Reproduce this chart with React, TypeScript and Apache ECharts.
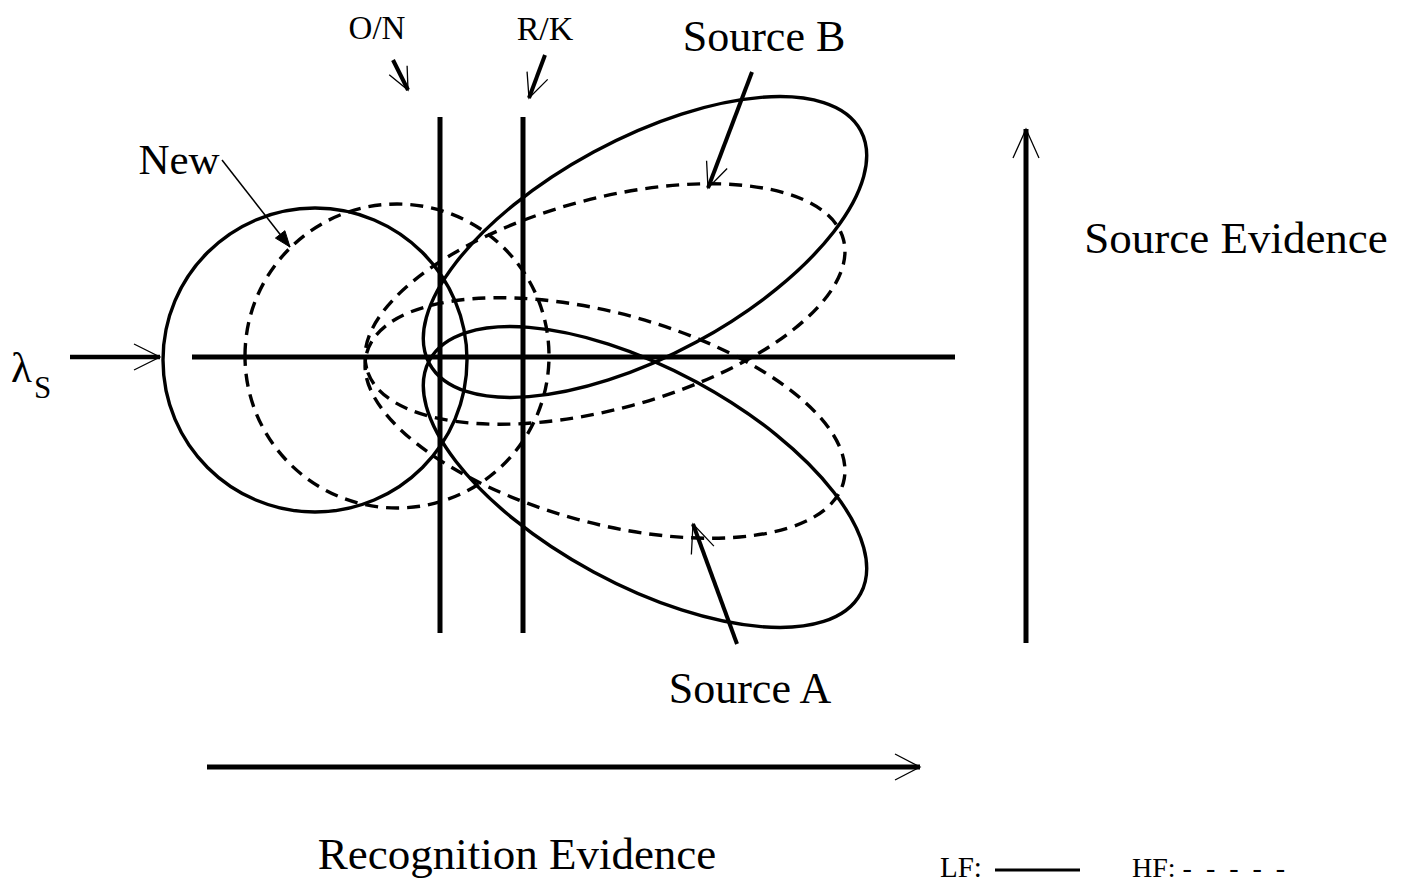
import React, { useEffect, useRef } from 'react';
import * as echarts from 'echarts';

// Distributions (ellipses) in diagram units (1 unit = 1 px of the figure)
const ellipseNames = ['New LF', 'New HF', 'Source A LF', 'Source A HF', 'Source B LF', 'Source B HF'];
const ellipseCx = [315, 397, 645, 605, 645, 605];
const ellipseCy = [360, 356, 477, 418, 247, 304];
const ellipseRx = [152, 152, 245, 247, 245, 247];
const ellipseRy = [152, 152, 108, 105, 108, 105];
const ellipseTilt = [0, 0, -28.4, -15.2, 28.4, 15.2];
const ellipseDashed = [0, 1, 0, 1, 0, 1];

// Decision criteria
const criterionNames = ['O/N', 'R/K'];
const criterionX = [440, 523];
const criterionYRange = [117, 633];
const lambdaY = 357;
const lambdaXRange = [192, 955];

// Arrows: from -> to, head type (1 open, 2 filled)
const arrowNames = ['lambda', 'O/N', 'R/K', 'New', 'Source B', 'Source A', 'Source Evidence', 'Recognition Evidence'];
const arrowFrom = [[70, 357], [393, 60], [545, 55], [222, 160], [752, 72], [737, 644], [1026, 643], [207, 767]];
const arrowTo = [[160, 357], [408, 90], [529, 98], [290, 247], [708, 188], [693, 524], [1026, 129], [920, 767]];
const arrowWidth = [4.5, 4, 4, 1.5, 4, 4, 5, 5];
const arrowHead = [1, 1, 1, 2, 1, 1, 1, 1];
const arrowHeadLen = [26, 22, 24, 16, 25, 28, 29, 25];
const arrowHeadHalf = [13, 10, 11, 6, 11, 12, 13, 13];

const FONT = '"Liberation Serif", "Times New Roman", serif';

export default function App() {
  const ref = useRef<HTMLDivElement>(null);
  useEffect(() => {
    document.body.style.margin = '0';
    const chart = echarts.init(ref.current!, null, { renderer: 'svg' });

    const ellipseData = ellipseNames.map((n, i) => ({
      name: n,
      value: [ellipseCx[i], ellipseCy[i], ellipseRx[i], ellipseRy[i], ellipseTilt[i], ellipseDashed[i]],
    }));

    const segData: any[] = [];
    criterionNames.forEach((n, i) => {
      segData.push({ name: n, value: [criterionX[i], criterionYRange[0], criterionX[i], criterionYRange[1], 5, 0, 0, 0] });
    });
    segData.push({ name: 'lambda_S', value: [lambdaXRange[0], lambdaY, lambdaXRange[1], lambdaY, 5, 0, 0, 0] });
    arrowNames.forEach((n, i) => {
      segData.push({
        name: n,
        value: [arrowFrom[i][0], arrowFrom[i][1], arrowTo[i][0], arrowTo[i][1], arrowWidth[i], arrowHead[i], arrowHeadLen[i], arrowHeadHalf[i]],
      });
    });

    const text = (t: string, x: number, y: number, size: number, align = 'center') => ({
      type: 'text',
      x,
      y,
      style: { text: t, font: `${size}px ${FONT}`, fill: '#000', textAlign: align, textVerticalAlign: 'middle' },
    });

    const option: any = {
      animation: false,
      backgroundColor: '#fff',
      grid: { left: 0, right: 0, top: 0, bottom: 0 },
      xAxis: { type: 'value', min: 0, max: 1408, show: false },
      yAxis: { type: 'value', min: 0, max: 891, inverse: true, show: false },
      series: [
        {
          type: 'custom',
          name: 'distributions',
          clip: false,
          silent: true,
          data: ellipseData,
          renderItem: (params: any, api: any) => {
            const c = api.coord([api.value(0), api.value(1)]);
            const s = api.size([api.value(2), api.value(3)]);
            return {
              type: 'ellipse',
              x: c[0],
              y: c[1],
              rotation: (api.value(4) * Math.PI) / 180,
              shape: { cx: 0, cy: 0, rx: Math.abs(s[0]), ry: Math.abs(s[1]) },
              style: {
                fill: 'none',
                stroke: '#000',
                lineWidth: 3.4,
                lineDash: api.value(5) ? [13, 8] : null,
              },
            };
          },
        },
        {
          type: 'custom',
          name: 'lines',
          clip: false,
          silent: true,
          data: segData,
          renderItem: (params: any, api: any) => {
            const p1 = api.coord([api.value(0), api.value(1)]);
            const p2 = api.coord([api.value(2), api.value(3)]);
            const w = api.value(4);
            const head = api.value(5);
            const children: any[] = [
              { type: 'line', shape: { x1: p1[0], y1: p1[1], x2: p2[0], y2: p2[1] }, style: { stroke: '#000', lineWidth: w } },
            ];
            if (head) {
              const dx = p2[0] - p1[0];
              const dy = p2[1] - p1[1];
              const L = Math.hypot(dx, dy);
              const ux = dx / L, uy = dy / L;
              const nx = -uy, ny = ux;
              const len = api.value(6), half = api.value(7);
              const bx = p2[0] - ux * len, by = p2[1] - uy * len;
              const a = [bx + nx * half, by + ny * half];
              const b = [bx - nx * half, by - ny * half];
              if (head === 1) {
                children.push({ type: 'polyline', shape: { points: [a, p2, b] }, style: { stroke: '#000', lineWidth: 1.3, fill: 'none' } });
              } else {
                children.push({ type: 'polygon', shape: { points: [a, p2, b] }, style: { fill: '#000', stroke: '#000', lineWidth: 1 } });
              }
            }
            return { type: 'group', children };
          },
        },
      ],
      graphic: [
        text('O/N', 377, 28, 33),
        text('R/K', 545, 28, 34),
        text('Source B', 764, 36, 44),
        text('New', 179, 159, 43),
        text('Source Evidence', 1236, 238, 45),
        text('Source A', 750, 688, 44),
        text('Recognition Evidence', 517, 854, 45),
        text('λ', 11, 367, 43, 'left'),
        text('S', 34, 387, 31, 'left'),
        text('LF:', 940, 867, 29, 'left'),
        { type: 'line', shape: { x1: 995, y1: 870, x2: 1080, y2: 870 }, style: { stroke: '#000', lineWidth: 3 } },
        text('HF: -\u00A0 -\u00A0 -\u00A0 -\u00A0 -', 1132, 867, 28, 'left'),
      ],
    };
    chart.setOption(option);
    return () => chart.dispose();
  }, []);
  return <div ref={ref} style={{ width: 1408, height: 891 }} />;
}
